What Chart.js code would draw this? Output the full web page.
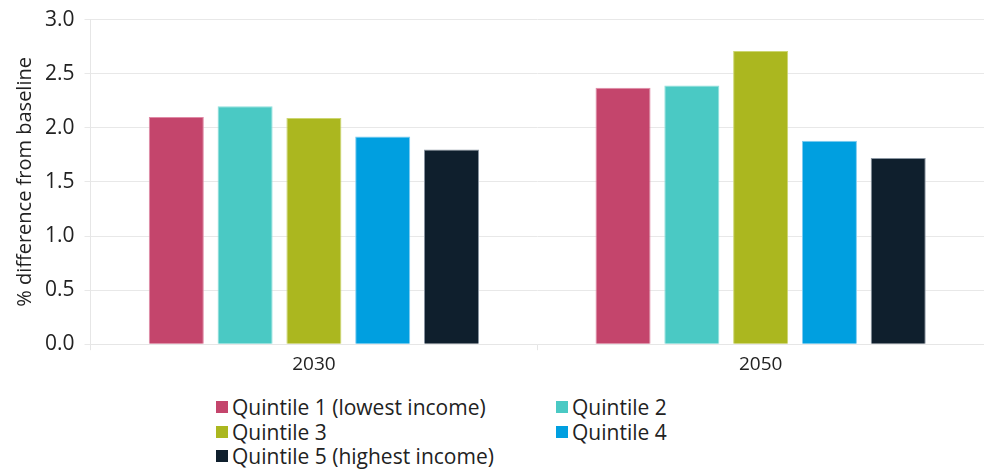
<!DOCTYPE html>
<html>
<head>
<meta charset="utf-8">
<script src="https://cdn.jsdelivr.net/npm/chart.js@4.4.0/dist/chart.umd.min.js"></script>
<style>
  html, body { margin: 0; padding: 0; background: #fff; }
  body { width: 984px; height: 474px; position: relative; overflow: hidden; font-family: "Open Sans", sans-serif; }
  #wrap { position: absolute; left: 0; top: -3px; width: 984px; height: 382px; }
  #legend { position: absolute; left: 216px; top: 395px; display: grid; grid-template-columns: 340px 200px; }
  .item { display: flex; align-items: center; font-size: 21px; color: #222; height: 24.5px; white-space: nowrap; }
  .box { width: 12px; height: 12px; margin-right: 4px; flex: none; }
</style>
</head>
<body>
<div id="wrap"><canvas id="barChart"></canvas></div>
<div id="legend"></div>
<script>
const categories = ['2030', '2050'];
const seriesNames = [
  'Quintile 1 (lowest income)',
  'Quintile 2',
  'Quintile 3',
  'Quintile 4',
  'Quintile 5 (highest income)',
];
const q1 = [2.10, 2.37];
const q2 = [2.20, 2.39];
const q3 = [2.09, 2.71];
const q4 = [1.92, 1.88];
const q5 = [1.80, 1.72];
const colors = ['#C4456C', '#4AC9C4', '#ABB71F', '#009FE0', '#0F1F2D'];
const borders = ['#E08AA6', '#8FE0DC', '#CCD670', '#7FCCF0', '#8A96A2'];
const yTicks = [0, 0.5, 1.0, 1.5, 2.0, 2.5, 3.0];

const values = [q1, q2, q3, q4, q5];
const textColor = '#222';
const family = '"Open Sans", sans-serif';

const datasets = seriesNames.map((name, i) => ({
  label: name,
  data: values[i],
  backgroundColor: colors[i],
  borderColor: borders[i],
  borderWidth: 1,
  categoryPercentage: 0.77,
  barPercentage: 0.8,
}));

const chart = new Chart(document.getElementById('barChart'), {
  type: 'bar',
  data: { labels: categories, datasets: datasets },
  options: {
    responsive: true,
    maintainAspectRatio: false,
    animation: false,
    layout: { padding: { top: 0, right: 0, left: 15, bottom: 0 } },
    plugins: {
      legend: { display: false },
      tooltip: { enabled: false },
    },
    scales: {
      x: {
        grid: { drawOnChartArea: false, drawTicks: true, tickLength: 6, color: '#e6e6e6', offset: true },
        border: { color: '#e6e6e6' },
        ticks: { color: textColor, font: { family: family, size: 19 }, padding: 3 },
      },
      y: {
        min: 0,
        max: 3,
        afterBuildTicks: (axis) => { axis.ticks = yTicks.map(v => ({ value: v })); },
        grid: { color: '#e8e8e8', tickLength: 6 },
        border: { color: '#e6e6e6' },
        ticks: {
          color: textColor,
          font: { family: family, size: 21 },
          padding: 10,
          callback: (v) => Number(v).toFixed(1),
        },
        title: {
          display: true,
          text: '% difference from baseline',
          color: textColor,
          font: { family: family, size: 20, lineHeight: 1 },
          padding: { top: 0, bottom: 0 },
        },
      },
    },
  },
});

// html legend in two columns, built from the datasets
const legendEl = document.getElementById('legend');
chart.data.datasets.forEach((ds) => {
  const item = document.createElement('div');
  item.className = 'item';
  const box = document.createElement('span');
  box.className = 'box';
  box.style.background = ds.backgroundColor;
  const txt = document.createElement('span');
  txt.textContent = ds.label;
  item.appendChild(box);
  item.appendChild(txt);
  legendEl.appendChild(item);
});
</script>
</body>
</html>
